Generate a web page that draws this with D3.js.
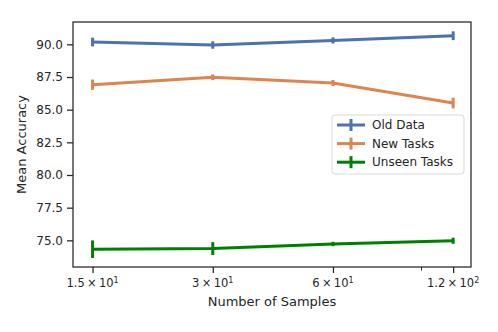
<!DOCTYPE html>
<html lang="en">
<head>
    <meta charset="UTF-8">
    <script src="https://d3js.org/d3.v7.min.js"></script>
    <style>
        body { margin: 0; background: #fff; }
        text { font-family: "DejaVu Sans", sans-serif; fill: #262626; }
    </style>
    <title>Mean Accuracy vs Number of Samples</title>
</head>
<body>
    <script>
        // data
        const samples = [15, 30, 60, 120];
        const seriesNames = ["Old Data", "New Tasks", "Unseen Tasks"];
        const seriesColors = ["#4c72b0", "#dd8452", "#008000"];
        const oldData = [90.18, 89.95, 90.30, 90.66];
        const oldErr = [0.22, 0.17, 0.12, 0.22];
        const newTasks = [86.91, 87.48, 87.04, 85.51];
        const newErr = [0.28, 0.10, 0.12, 0.30];
        const unseenTasks = [74.32, 74.37, 74.72, 74.97];
        const unseenErr = [0.56, 0.38, 0.05, 0.12];
        const yTicks = [75, 77.5, 80, 82.5, 85, 87.5, 90];
        const xTickLabels = [["1.5", "1"], ["3", "1"], ["6", "1"], ["1.2", "2"]];

        const width = 498, height = 332;
        const margin = { top: 22, right: 27, bottom: 65, left: 73 };

        const svg = d3.select("body").append("svg")
            .attr("width", width)
            .attr("height", height);

        const x = d3.scaleLog()
            .domain([13.4, 133])
            .range([margin.left, width - margin.right]);
        const y = d3.scaleLinear()
            .domain([72.96, 91.71])
            .range([height - margin.bottom, margin.top]);

        const series = [
            { name: seriesNames[0], color: seriesColors[0], values: oldData, err: oldErr },
            { name: seriesNames[1], color: seriesColors[1], values: newTasks, err: newErr },
            { name: seriesNames[2], color: seriesColors[2], values: unseenTasks, err: unseenErr }
        ];

        // frame
        svg.append("rect")
            .attr("x", margin.left)
            .attr("y", margin.top)
            .attr("width", width - margin.left - margin.right)
            .attr("height", height - margin.top - margin.bottom)
            .attr("fill", "none")
            .attr("stroke", "#262626")
            .attr("stroke-width", 1.25);

        // y axis
        const yAxis = svg.append("g")
            .attr("transform", `translate(${margin.left},0)`)
            .call(d3.axisLeft(y).tickValues(yTicks).tickFormat(d3.format(".1f")).tickSize(6).tickPadding(4));
        yAxis.select(".domain").remove();
        yAxis.selectAll(".tick line").attr("stroke", "#262626").attr("stroke-width", 1.25);
        yAxis.selectAll(".tick text").style("font-size", "12px").attr("fill", "#262626");

        // x axis
        const xAxis = svg.append("g")
            .attr("transform", `translate(0,${height - margin.bottom})`)
            .call(d3.axisBottom(x).tickValues(samples).tickFormat("").tickSize(6));
        xAxis.select(".domain").remove();
        xAxis.selectAll(".tick line").attr("stroke", "#262626").attr("stroke-width", 1.25);
        xAxis.selectAll(".tick text").remove();

        // minor tick at 100
        xAxis.append("line")
            .attr("x1", x(100)).attr("x2", x(100))
            .attr("y1", 0).attr("y2", 3.5)
            .attr("stroke", "#262626").attr("stroke-width", 1);

        samples.forEach((s, i) => {
            const t = svg.append("text")
                .attr("x", x(s))
                .attr("y", height - margin.bottom + 20)
                .attr("text-anchor", "middle")
                .style("font-size", "11.5px");
            t.append("tspan").text(xTickLabels[i][0] + "\u2009\u00d7\u200910");
            t.append("tspan").attr("dy", -4.5).style("font-size", "8px").text(xTickLabels[i][1]);
        });

        // axis labels
        svg.append("text")
            .attr("x", (margin.left + width - margin.right) / 2)
            .attr("y", 306)
            .attr("text-anchor", "middle")
            .style("font-size", "13px")
            .text("Number of Samples");

        svg.append("text")
            .attr("transform", `translate(26,${(margin.top + height - margin.bottom) / 2}) rotate(-90)`)
            .attr("text-anchor", "middle")
            .style("font-size", "13px")
            .text("Mean Accuracy");

        // lines and error bars
        const line = d3.line()
            .x((d, i) => x(samples[i]))
            .y(d => y(d));

        series.forEach(s => {
            svg.append("path")
                .datum(s.values)
                .attr("fill", "none")
                .attr("stroke", s.color)
                .attr("stroke-width", 3)
                .attr("d", line);

            svg.selectAll(null)
                .data(s.values)
                .enter().append("line")
                .attr("x1", (d, i) => x(samples[i]))
                .attr("x2", (d, i) => x(samples[i]))
                .attr("y1", (d, i) => y(d - s.err[i]) + 1.5)
                .attr("y2", (d, i) => y(d + s.err[i]) - 1.5)
                .attr("stroke", s.color)
                .attr("stroke-width", 3);
        });

        // legend
        const lg = svg.append("g").attr("transform", "translate(332,115)");
        lg.append("rect")
            .attr("width", 132).attr("height", 59)
            .attr("rx", 3)
            .attr("fill", "#fff")
            .attr("fill-opacity", 0.8)
            .attr("stroke", "#d9d9d9")
            .attr("stroke-width", 1);
        series.forEach((s, i) => {
            const row = lg.append("g").attr("transform", `translate(0,${10 + i * 18.6})`);
            row.append("line")
                .attr("x1", 5).attr("x2", 33)
                .attr("y1", 0).attr("y2", 0)
                .attr("stroke", s.color).attr("stroke-width", 3);
            row.append("line")
                .attr("x1", 19).attr("x2", 19)
                .attr("y1", -6).attr("y2", 6)
                .attr("stroke", s.color).attr("stroke-width", 3);
            row.append("text")
                .attr("x", 40).attr("y", 0)
                .attr("dy", "0.35em")
                .style("font-size", "12px")
                .text(s.name);
        });
    </script>
</body>
</html>
